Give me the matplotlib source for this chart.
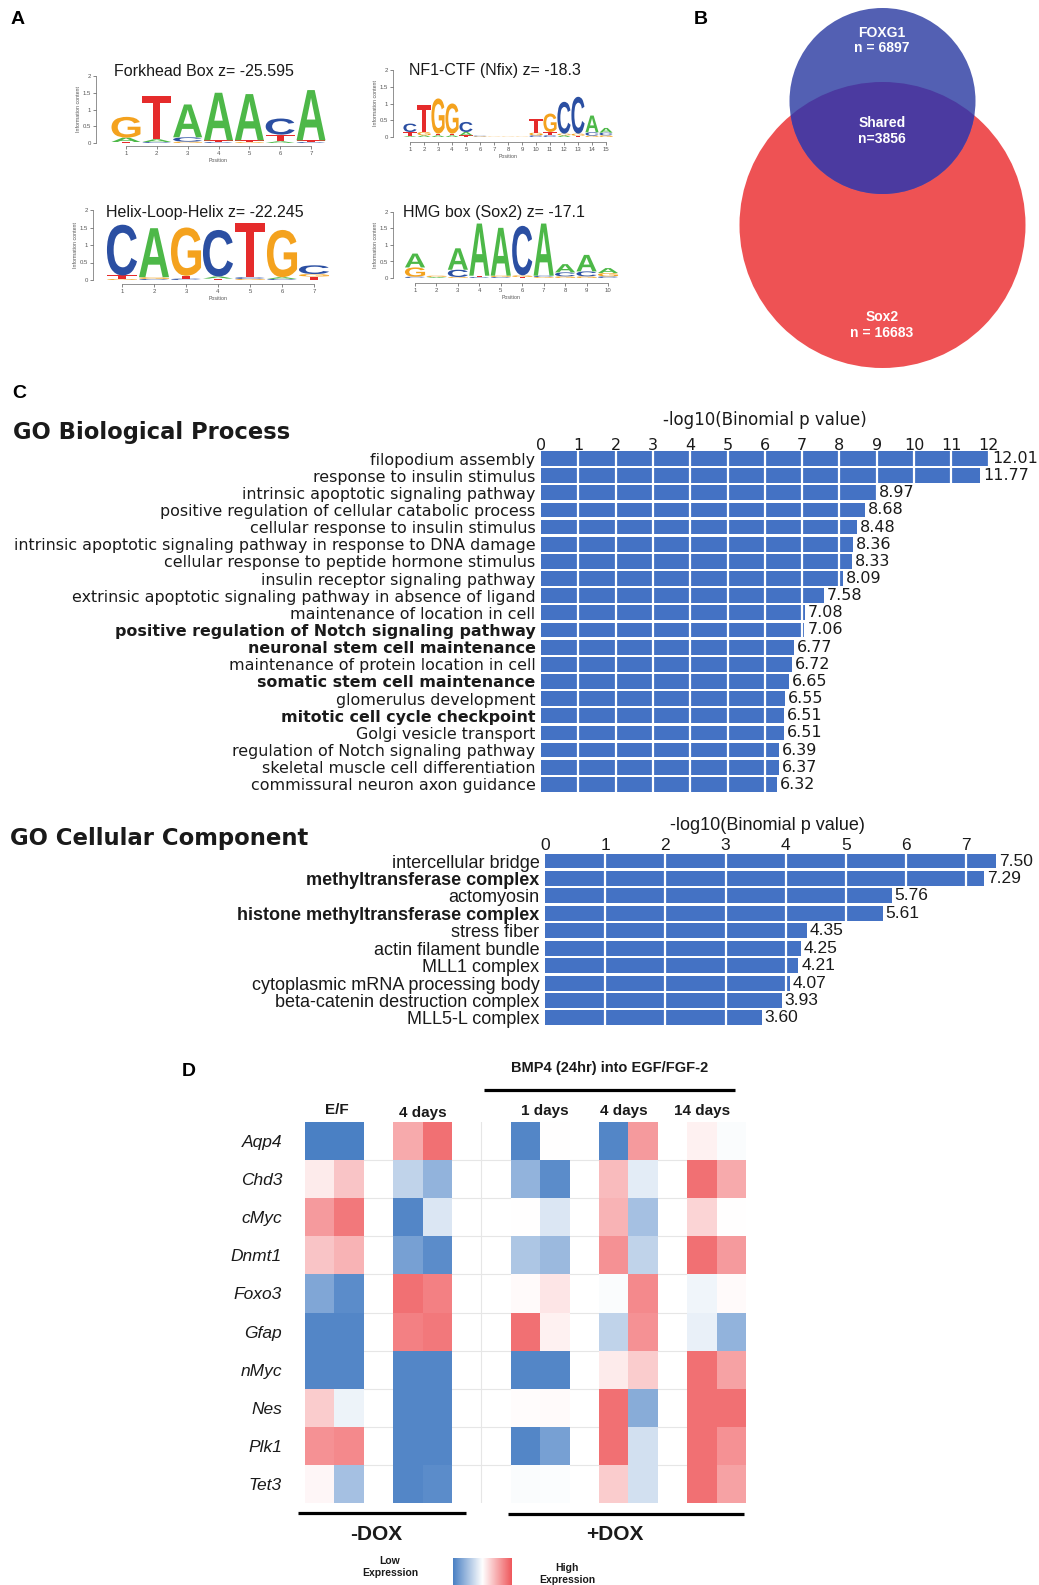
import numpy as np
import matplotlib
matplotlib.use('Agg')
import matplotlib.pyplot as plt
from matplotlib.patches import Circle, PathPatch
from matplotlib.textpath import TextPath
from matplotlib.font_manager import FontProperties
from matplotlib.colors import LinearSegmentedColormap
from matplotlib.lines import Line2D
import matplotlib.transforms as mtrans

plt.rcParams['font.family'] = ['Liberation Sans', 'DejaVu Sans']

# ---------------- data ----------------
# Motif logos: stacks of (letter, information content) from bottom to top
FORKHEAD = [
    [('T', 0.03), ('A', 0.13), ('G', 0.62)],
    [('C', 0.03), ('A', 0.08), ('T', 1.28)],
    [('G', 0.04), ('C', 0.13), ('A', 0.98)],
    [('C', 0.03), ('T', 0.05), ('A', 1.42)],
    [('G', 0.03), ('T', 0.05), ('A', 1.38)],
    [('A', 0.05), ('T', 0.20), ('C', 0.48)],
    [('C', 0.03), ('T', 0.05), ('A', 1.50)],
]
NF1 = [
    [('A', 0.03), ('T', 0.12), ('C', 0.25)],
    [('A', 0.05), ('G', 0.10), ('T', 0.80)],
    [('A', 0.05), ('T', 0.05), ('G', 1.05)],
    [('A', 0.05), ('T', 0.05), ('G', 0.90)],
    [('T', 0.05), ('A', 0.10), ('C', 0.30)],
    [('G', 0.02), ('C', 0.02)],
    [('G', 0.01)],
    [('G', 0.01)],
    [('G', 0.01)],
    [('C', 0.05), ('G', 0.08), ('T', 0.40)],
    [('C', 0.05), ('T', 0.10), ('G', 0.55)],
    [('A', 0.05), ('G', 0.05), ('C', 0.95)],
    [('T', 0.04), ('G', 0.06), ('C', 1.10)],
    [('G', 0.04), ('C', 0.10), ('A', 0.50)],
    [('G', 0.05), ('C', 0.08), ('A', 0.14)],
]
HLH = [
    [('G', 0.03), ('T', 0.10), ('C', 1.45)],
    [('C', 0.03), ('G', 0.05), ('A', 1.40)],
    [('C', 0.04), ('T', 0.08), ('G', 1.38)],
    [('T', 0.04), ('A', 0.06), ('C', 1.33)],
    [('G', 0.03), ('C', 0.05), ('T', 1.55)],
    [('C', 0.03), ('A', 0.05), ('G', 1.35)],
    [('T', 0.10), ('G', 0.07), ('C', 0.25)],
]
HMG = [
    [('C', 0.04), ('G', 0.28), ('A', 0.42)],
    [('A', 0.03), ('G', 0.04)],
    [('G', 0.03), ('C', 0.22), ('A', 0.65)],
    [('C', 0.03), ('T', 0.04), ('A', 1.58)],
    [('C', 0.03), ('G', 0.04), ('A', 1.45)],
    [('T', 0.03), ('G', 0.05), ('C', 1.50)],
    [('G', 0.03), ('C', 0.04), ('A', 1.58)],
    [('G', 0.05), ('C', 0.12), ('A', 0.25)],
    [('G', 0.05), ('C', 0.15), ('A', 0.50)],
    [('C', 0.05), ('G', 0.10), ('A', 0.15)],
]
MOTIF_TITLES = ['Forkhead Box z= -25.595', 'NF1-CTF (Nfix) z= -18.3',
                'Helix-Loop-Helix z= -22.245', 'HMG box (Sox2) z= -17.1']

# Venn counts
VENN_NAMES = ['FOXG1', 'Shared', 'Sox2']
VENN_COUNTS = [6897, 3856, 16683]

# GO Biological Process
BP_TERMS = ['filopodium assembly', 'response to insulin stimulus',
            'intrinsic apoptotic signaling pathway',
            'positive regulation of cellular catabolic process',
            'cellular response to insulin stimulus',
            'intrinsic apoptotic signaling pathway in response to DNA damage',
            'cellular response to peptide hormone stimulus',
            'insulin receptor signaling pathway',
            'extrinsic apoptotic signaling pathway in absence of ligand',
            'maintenance of location in cell',
            'positive regulation of Notch signaling pathway',
            'neuronal stem cell maintenance',
            'maintenance of protein location in cell',
            'somatic stem cell maintenance', 'glomerulus development',
            'mitotic cell cycle checkpoint', 'Golgi vesicle transport',
            'regulation of Notch signaling pathway',
            'skeletal muscle cell differentiation',
            'commissural neuron axon guidance']
BP_VALUES = [12.01, 11.77, 8.97, 8.68, 8.48, 8.36, 8.33, 8.09, 7.58, 7.08,
             7.06, 6.77, 6.72, 6.65, 6.55, 6.51, 6.51, 6.39, 6.37, 6.32]
BP_BOLD = ['positive regulation of Notch signaling pathway',
           'neuronal stem cell maintenance', 'somatic stem cell maintenance',
           'mitotic cell cycle checkpoint']

# GO Cellular Component
CC_TERMS = ['intercellular bridge', 'methyltransferase complex', 'actomyosin',
            'histone methyltransferase complex', 'stress fiber',
            'actin filament bundle', 'MLL1 complex',
            'cytoplasmic mRNA processing body',
            'beta-catenin destruction complex', 'MLL5-L complex']
CC_VALUES = [7.50, 7.29, 5.76, 5.61, 4.35, 4.25, 4.21, 4.07, 3.93, 3.60]
CC_BOLD = ['methyltransferase complex', 'histone methyltransferase complex']

# Heatmap (relative expression, -1 low .. +1 high)
GENES = ['Aqp4', 'Chd3', 'cMyc', 'Dnmt1', 'Foxo3', 'Gfap', 'nMyc', 'Nes', 'Plk1', 'Tet3']
CONDITIONS = ['E/F', '4 days', '1 days', '4 days', '14 days']
EXPR = np.array([
    # E/F         4 days        1 days        4 days        14 days
    [-1.00, -1.00, 0.50, 0.85, -0.95, 0.00, -0.95, 0.60, 0.08, -0.03],
    [0.12, 0.35, -0.35, -0.60, -0.60, -0.90, 0.40, -0.15, 0.85, 0.50],
    [0.60, 0.80, -0.95, -0.20, 0.00, -0.20, 0.45, -0.50, 0.25, 0.00],
    [0.35, 0.45, -0.75, -0.90, -0.45, -0.55, 0.65, -0.35, 0.85, 0.60],
    [-0.70, -0.90, 0.85, 0.75, 0.03, 0.15, -0.03, 0.70, -0.08, 0.03],
    [-0.95, -0.95, 0.75, 0.80, 0.85, 0.08, -0.35, 0.65, -0.12, -0.60],
    [-0.95, -0.95, -0.95, -0.95, -0.95, -0.95, 0.12, 0.30, 0.85, 0.55],
    [0.30, -0.10, -0.95, -0.95, 0.02, 0.03, 0.85, -0.65, 0.85, 0.85],
    [0.65, 0.70, -0.95, -0.95, -0.95, -0.75, 0.85, -0.25, 0.85, 0.65],
    [0.05, -0.50, -0.95, -0.90, -0.03, -0.02, 0.30, -0.25, 0.85, 0.55],
])

# ---------------- figure ----------------
W, H = 1039, 1585
fig = plt.figure(figsize=(W / 100, H / 100), dpi=100)
TXT = '#1a1a1a'
WIDE = ['DejaVu Sans']


def add_ax(x0, y0, x1, y1):
    return fig.add_axes([x0 / W, 1 - y1 / H, (x1 - x0) / W, (y1 - y0) / H])


def ftext(x, y, s, **kw):
    kw.setdefault('color', TXT)
    return fig.text(x / W, 1 - y / H, s, **kw)


def fline(x0, x1, y, lw=2.3):
    fig.add_artist(Line2D([x0 / W, x1 / W], [1 - y / H, 1 - y / H],
                          color='black', lw=lw, solid_capstyle='butt'))


# panel letters
for lab, x, y in [('A', 18, 19), ('B', 701, 19), ('C', 19, 393), ('D', 189, 1071)]:
    ftext(x, y, lab, fontsize=14, fontweight='bold', ha='center', va='center', color='black')

# ---------------- Panel A: logos ----------------
LETTER_COLORS = {'A': '#4DB848', 'C': '#2B4FA2', 'G': '#F4A21E', 'T': '#E52B2B'}
LOGO_FP = FontProperties(family='Liberation Sans', weight='bold')


def draw_letter(ax, ch, xc, yb, w, h):
    tp = TextPath((0, 0), ch, size=1, prop=LOGO_FP)
    bb = tp.get_extents()
    tr = (mtrans.Affine2D().translate(-bb.x0, -bb.y0)
          .scale(w / bb.width, h / bb.height).translate(xc - w / 2, yb))
    ax.add_patch(PathPatch(tr.transform_path(tp), fc=LETTER_COLORS[ch], ec='none', lw=0))


def draw_logo(stacks, title, px_first, px_last, py0, py2, spine_x, axis_y, tx, ty):
    n = len(stacks)
    u = (px_last - px_first) / (n - 1)
    x0, x1 = px_first - 0.5 * u, px_last + 0.5 * u
    ax = add_ax(x0, py2, x1, py0)
    ax.set_xlim(0.5, n + 0.5)
    ax.set_ylim(0, 2)
    ax.patch.set_alpha(0)
    for i, stack in enumerate(stacks):
        yb = 0.0
        for ch, h in stack:
            draw_letter(ax, ch, i + 1, yb, 0.94, h)
            yb += h
    for s in ['top', 'right']:
        ax.spines[s].set_visible(False)
    ax.spines['left'].set_bounds(0, 2)
    ax.spines['left'].set_position(('outward', (x0 - spine_x) * 0.72))
    ax.spines['bottom'].set_bounds(1, n)
    ax.spines['bottom'].set_position(('outward', (axis_y - py0) * 0.72))
    for s in ['left', 'bottom']:
        ax.spines[s].set_linewidth(0.5)
        ax.spines[s].set_color('#666666')
    ax.set_yticks([0, 0.5, 1, 1.5, 2])
    ax.set_yticklabels(['0', '0.5', '1', '1.5', '2'])
    ax.set_xticks(range(1, n + 1))
    ax.tick_params(labelsize=4.3, length=2, width=0.5, colors='#555555', pad=1.5)
    ax.set_ylabel('Information content', fontsize=3.8, labelpad=1.5, color='#555555')
    ax.set_xlabel('Position', fontsize=3.8, labelpad=1.5, color='#555555')
    ftext(tx, ty, title, fontsize=11.5, ha='left', va='center')


draw_logo(FORKHEAD, MOTIF_TITLES[0], 126, 311, 143, 76, 96, 146, 114, 71)
draw_logo(NF1, MOTIF_TITLES[1], 410, 606, 137, 70, 393, 142, 409, 70)
draw_logo(HLH, MOTIF_TITLES[2], 122, 314, 280, 210, 93, 284, 106, 212)
draw_logo(HMG, MOTIF_TITLES[3], 415, 608, 278, 212, 393, 283, 403, 213)

# ---------------- Panel B: Venn ----------------
axv = add_ax(720, 0, 1039, 380)
axv.set_xlim(720, 1039)
axv.set_ylim(380, 0)
axv.axis('off')
red_c = Circle((882.5, 225), 143, fc='#EE5254', ec='none')
blue_c = Circle((882.5, 101), 93, fc='#5360B3', ec='none')
ov_c = Circle((882.5, 225), 143, fc='#4B3AA0', ec='none')
axv.add_patch(red_c)
axv.add_patch(blue_c)
axv.add_patch(ov_c)
ov_c.set_clip_path(blue_c)
venn_txt = [(VENN_NAMES[0], 'n = %d' % VENN_COUNTS[0], 33, 48),
            (VENN_NAMES[1], 'n=%d' % VENN_COUNTS[1], 123, 139),
            (VENN_NAMES[2], 'n = %d' % VENN_COUNTS[2], 317, 333)]
for name, cnt, y1, y2 in venn_txt:
    axv.text(882, y1, name, color='white', fontsize=10, fontweight='bold', ha='center', va='center')
    axv.text(882, y2, cnt, color='white', fontsize=10, fontweight='bold', ha='center', va='center')

# ---------------- Panel C: GO bars ----------------
BAR_BLUE = '#4472C4'


def go_chart(terms, values, bold, x0, unit, xmax, c0, pitch, ticks, tick_y,
             title_x, title_y, fam, lab_fs, num_fs):
    n = len(terms)
    top = c0 - pitch / 2
    bot = c0 + (n - 1) * pitch + pitch / 2
    ax = add_ax(x0, top, x0 + xmax * unit, bot)
    ax.set_xlim(0, xmax)
    ax.set_ylim(n - 0.5, -0.5)
    ax.barh(range(n), values, height=0.86, color=BAR_BLUE, zorder=2)
    for k in range(1, int(max(values)) + 1):
        ax.axvline(k, color='white', lw=1.6, zorder=3)
    for i, v in enumerate(values):
        ax.text(v + 3.0 / unit, i, '%.2f' % v, va='center', ha='left',
                fontsize=num_fs, color=TXT, zorder=5, family=fam)
    for s in ax.spines.values():
        s.set_visible(False)
    ax.set_yticks(range(n))
    ax.set_yticklabels(terms, fontsize=lab_fs, color=TXT, family=fam)
    for lab in ax.get_yticklabels():
        if lab.get_text() in bold:
            lab.set_fontweight('bold')
    ax.tick_params(axis='y', length=0, pad=4)
    ax.set_xticks(ticks)
    ax.set_xticklabels([str(t) for t in ticks], family=fam)
    ax.xaxis.tick_top()
    ax.tick_params(axis='x', length=0, labelsize=num_fs, labelcolor=TXT,
                   pad=(top - tick_y - 10) * 0.72)
    ftext(title_x, title_y, '-log10(Binomial p value)', fontsize=num_fs + 0.5,
          ha='center', va='center', family=fam)
    return ax


go_chart(BP_TERMS, BP_VALUES, BP_BOLD, 541, 37.3, 13, 458.5, 17.15,
         list(range(0, 13)), 443, 765, 420, WIDE, 11.4, 11.5)
ftext(13, 433, 'GO Biological Process', fontsize=16.3, fontweight='bold',
      ha='left', va='center', family=WIDE)

go_chart(CC_TERMS, CC_VALUES, CC_BOLD, 545, 60.2, 8, 861, 17.44,
         list(range(0, 8)), 843, 767, 825, ['Liberation Sans', 'DejaVu Sans'], 13, 12.5)
ftext(10, 839, 'GO Cellular Component', fontsize=16.4, fontweight='bold',
      ha='left', va='center', family=WIDE)

# ---------------- Panel D: heatmap ----------------
cmap = LinearSegmentedColormap.from_list('bwr2', ['#4A80C4', '#FFFFFF', '#EF575B'])
cmap.set_bad((1, 1, 1, 0))
data_cols = [0, 1, 3, 4, 7, 8, 10, 11, 13, 14]
full = np.full((len(GENES), 15), np.nan)
full[:, data_cols] = EXPR

hx0, hx1, hy0, hy1 = 305, 746, 1122, 1503
axh = add_ax(hx0, hy0, hx1, hy1)
for r in range(1, len(GENES)):
    axh.axhline(r, color='#E6E6E6', lw=0.8, zorder=0)
axh.axvline(6, color='#E6E6E6', lw=0.8, zorder=0)
axh.pcolormesh(np.arange(16), np.arange(len(GENES) + 1), full, cmap=cmap,
               vmin=-1, vmax=1, zorder=1)
axh.set_xlim(0, 15)
axh.set_ylim(len(GENES), 0)
for s in axh.spines.values():
    s.set_visible(False)
axh.set_xticks([])
axh.set_yticks(np.arange(len(GENES)) + 0.5)
axh.set_yticklabels(GENES, fontsize=12.5, fontstyle='italic', color=TXT)
axh.tick_params(axis='y', length=0, pad=(hx0 - 282) * 0.72)

for lab, x, y in zip(CONDITIONS, [337, 423, 545, 624, 702], [1110, 1113, 1111, 1111, 1111]):
    ftext(x, y, lab, fontsize=11, fontweight='bold', ha='center', va='center')
ftext(610, 1068, 'BMP4 (24hr) into EGF/FGF-2', fontsize=10.5, fontweight='bold',
      ha='center', va='center')
fline(484, 735, 1090)
fline(298, 466, 1513)
fline(508, 744, 1514)
ftext(376, 1534, '-DOX', fontsize=15, fontweight='bold', ha='center', va='center')
ftext(615, 1534, '+DOX', fontsize=15, fontweight='bold', ha='center', va='center')

axc = add_ax(453, 1558, 512, 1585)
axc.imshow(np.linspace(-1, 1, 256)[None, :], cmap=cmap, aspect='auto', vmin=-1, vmax=1)
axc.axis('off')
ftext(390, 1567, 'Low\nExpression', fontsize=7.5, fontweight='bold', ha='center',
      va='center', linespacing=1.3)
ftext(567, 1574, 'High\nExpression', fontsize=7.5, fontweight='bold', ha='center',
      va='center', linespacing=1.3)

fig.savefig('out.png', dpi=100, facecolor='white')
